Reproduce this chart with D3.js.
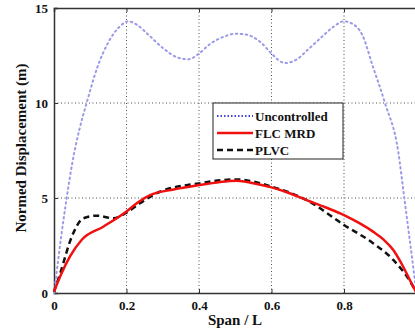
<!DOCTYPE html>
<html><head><meta charset="utf-8">
<script src="https://cdn.jsdelivr.net/npm/d3@7"></script>
<style>body{margin:0;background:#fff}svg{display:block}</style>
</head><body>
<script>
const xTicks = [0, 0.2, 0.4, 0.6, 0.8, 1];
const yTicks = [0, 5, 10, 15];
const seriesNames = ["Uncontrolled", "FLC MRD", "PLVC"];
const uncontrolledX = [0,0.01,0.02,0.035,0.05,0.07,0.09,0.12,0.15,0.18,0.205,0.23,0.26,0.3,0.34,0.37,0.4,0.43,0.47,0.5,0.53,0.57,0.6,0.637,0.67,0.7,0.74,0.77,0.8,0.82,0.85,0.88,0.913,0.95,0.965,0.98,1.0];
const uncontrolledY = [0,1.5,3,5,6.8,8.6,10,11.9,13.2,14.0,14.3,14.1,13.6,12.9,12.4,12.3,12.6,13.1,13.5,13.65,13.6,13.2,12.6,12.1,12.3,12.8,13.5,14.0,14.3,14.2,13.6,11.9,10,7.4,5.2,3,0];
const flcX = [0,0.02,0.045,0.076,0.136,0.199,0.23,0.265,0.33,0.4,0.45,0.504,0.55,0.6,0.65,0.697,0.75,0.8,0.84,0.88,0.91,0.936,0.96,0.991,1.0];
const flcY = [0.07,1.0,1.95,2.79,3.49,4.28,4.75,5.15,5.45,5.68,5.82,5.91,5.78,5.56,5.25,4.89,4.5,4.1,3.7,3.23,2.8,2.26,1.5,0.33,0];
const plvcX = [0,0.017,0.049,0.081,0.118,0.164,0.2,0.237,0.292,0.4,0.504,0.6,0.697,0.8,0.881,0.936,0.991,1.0];
const plvcY = [0.07,1.03,2.96,3.93,4.07,3.93,4.23,4.72,5.33,5.77,5.98,5.6,4.89,3.58,2.61,1.74,0.33,0];

const W = 415, H = 329;
const FONT = "Liberation Serif";
const svg = d3.select("body").append("svg").attr("width", W).attr("height", H);
const x = d3.scaleLinear().domain([0, 1]).range([54, 416.5]);
const y = d3.scaleLinear().domain([0, 15]).range([293, 8]);

// grid
const g = svg.append("g");
g.selectAll(".gx").data(xTicks.slice(1, -1)).join("line")
  .attr("x1", d => x(d)).attr("x2", d => x(d)).attr("y1", y(0)).attr("y2", y(15))
  .attr("stroke", "#222").attr("stroke-width", 0.8).attr("stroke-dasharray", "1,2.5");
g.selectAll(".gy").data(yTicks.slice(1, -1)).join("line")
  .attr("y1", d => y(d)).attr("y2", d => y(d)).attr("x1", x(0)).attr("x2", x(1))
  .attr("stroke", "#222").attr("stroke-width", 0.8).attr("stroke-dasharray", "1,2.5");

// axes
const xAxis = d3.axisBottom(x).tickValues(xTicks).tickSize(-4).tickPadding(8).tickFormat(d => d === 0 ? "0" : d === 1 ? "" : d3.format(".1f")(d));
const yAxis = d3.axisLeft(y).tickValues(yTicks).tickSize(-4).tickPadding(6).tickFormat(d3.format("d"));
const xa = svg.append("g").attr("transform", `translate(0,${y(0)})`).call(xAxis);
const ya = svg.append("g").attr("transform", `translate(${x(0)},0)`).call(yAxis);
const xt = svg.append("g").attr("transform", `translate(0,${y(15)})`).call(d3.axisTop(x).tickValues(xTicks).tickSize(-4).tickFormat(""));
[xa, ya, xt].forEach(a => {
  a.attr("font-family", FONT);
  a.select(".domain").attr("stroke", "#333").attr("stroke-width", 1.5);
  a.selectAll(".tick line").attr("stroke", "#333");
  a.selectAll("text").attr("font-family", FONT).attr("font-weight", "bold").attr("font-size", 13).attr("fill", "#111");
});

// lines
const line = d3.line().x(d => x(d[0])).y(d => y(d[1])).curve(d3.curveMonotoneX);
const unc = uncontrolledX.map((v, i) => [v, uncontrolledY[i]]);
const flc = flcX.map((v, i) => [v, flcY[i]]);
const plv = plvcX.map((v, i) => [v, plvcY[i]]);
svg.append("path").attr("d", line(unc)).attr("fill", "none").attr("stroke", "#9a9ae8")
  .attr("stroke-width", 2).attr("stroke-dasharray", "1.5,3.5").attr("stroke-linecap", "round");
svg.append("path").attr("d", line(plv)).attr("fill", "none").attr("stroke", "#111")
  .attr("stroke-width", 2.5).attr("stroke-dasharray", "6,4");
svg.append("path").attr("d", line(flc)).attr("fill", "none").attr("stroke", "#f01010")
  .attr("stroke-width", 2.5);

// labels
svg.append("text").attr("x", 235).attr("y", 325).attr("text-anchor", "middle")
  .attr("font-family", FONT).attr("font-weight", "bold")
  .attr("font-size", 15).attr("fill", "#111").text("Span / L");
svg.append("text").attr("transform", "translate(26,148) rotate(-90)").attr("text-anchor", "middle")
  .attr("font-family", FONT).attr("font-weight", "bold")
  .attr("font-size", 15).attr("fill", "#111").text("Normed Displacement (m)");

// legend
const lg = svg.append("g");
lg.append("rect").attr("x", 213).attr("y", 103).attr("width", 130).attr("height", 56)
  .attr("fill", "#fff").attr("stroke", "#222").attr("stroke-width", 1);
const styles = [
  {stroke: "#4444dd", w: 2, dash: "1.5,2"},
  {stroke: "#f01010", w: 2.5, dash: null},
  {stroke: "#111", w: 2.5, dash: "6,4"}
];
seriesNames.forEach((n, i) => {
  const yy = 116 + i * 17;
  lg.append("line").attr("x1", 217).attr("x2", 253).attr("y1", yy).attr("y2", yy)
    .attr("stroke", styles[i].stroke).attr("stroke-width", styles[i].w)
    .attr("stroke-dasharray", styles[i].dash);
  lg.append("text").attr("x", 255).attr("y", yy + 4.5)
    .attr("font-family", FONT).attr("font-weight", "bold")
    .attr("font-size", 13).attr("fill", "#111").text(n);
});
</script>
</body></html>
